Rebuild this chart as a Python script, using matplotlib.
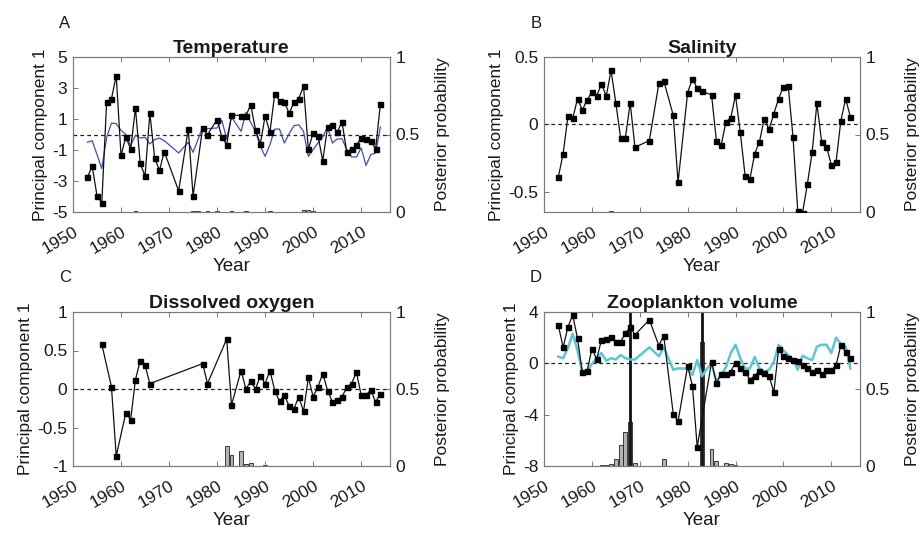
import matplotlib
matplotlib.use("Agg")
import matplotlib.pyplot as plt
import numpy as np

plt.rcParams['font.family'] = ['Liberation Sans', 'DejaVu Sans']

# ---------------- data ----------------
# Panel A: Temperature
temp_years = [1953, 1954, 1955, 1956, 1957, 1958, 1959, 1960, 1961, 1962, 1963, 1964, 1965,
              1966, 1967, 1968, 1969, 1972, 1974, 1975, 1977, 1978, 1980, 1981, 1982, 1983,
              1985, 1986, 1987, 1988, 1989, 1990, 1991, 1992, 1993, 1994, 1995, 1996, 1997,
              1998, 1999, 2000, 2001, 2002, 2003, 2004, 2005, 2006, 2007, 2008, 2009, 2010,
              2011, 2012, 2013, 2014]
temp_pc = [-2.75, -2.05, -3.96, -4.4, 2.08, 2.3, 3.79, -1.35, -0.16, -0.94, 1.7, -1.87, -2.69,
           1.39, -1.52, -2.32, -1.11, -3.64, 0.36, -3.96, 0.42, -0.01, 0.96, -0.18, -0.66, 1.26,
           1.22, 1.22, 1.91, 0.31, -0.62, 1.2, 0.14, 2.62, 2.17, 2.08, 1.37, 2.08, 2.32,
           3.12, -0.96, 0.10, -0.08, -1.70, 0.49, 0.64, 0.14, 0.81, -1.13, -0.94, -0.7, -0.23,
           -0.27, -0.4, -0.94, 1.98]
temp_fit = [-0.5, -0.4, -1.3, -2.2, -0.2, 0.74, 0.7, 0.27, 0.0, -0.72, -0.05, -0.23, -0.18,
            -0.61, -0.33, -0.23, -0.4, -1.19, -0.5, -1.15, 0.48, 0.38, 0.42, 0.91, -0.29, 1.13,
            0.2, 1.43, 0.78, 0.2, -0.76, -1.41, -0.66, 0.35, 0.35, -0.55, 0.05, 0.57, 0.63,
            0.2, -1.41, -0.98, -0.55, -0.16, 0.48, -0.55, -0.29, -0.27, -0.98, -1.45, -1.45, -0.87,
            -2.0, -1.3, -1.19, 0.48]
temp_bar_years = [1963, 1975, 1976, 1978, 1980, 1983, 1986, 1991, 1998, 1999, 2000]
temp_bar_prob = [0.004, 0.006, 0.005, 0.008, 0.006, 0.005, 0.004, 0.004, 0.012, 0.01, 0.006]

# Panel B: Salinity
sal_years = temp_years
sal_pc = [-0.39, -0.216, 0.06, 0.045, 0.19, 0.107, 0.18, 0.24, 0.21, 0.30, 0.21, 0.40, 0.16,
          -0.10, -0.10, 0.16, -0.17, -0.12, 0.305, 0.325, 0.067, -0.43, 0.236, 0.337, 0.27, 0.246,
          0.218, -0.12, -0.156, 0.02, 0.047, 0.216, -0.06, -0.38, -0.407, -0.218, -0.129, 0.042,
          -0.037, 0.079, 0.19, 0.28, 0.285, -0.09, -0.643, -0.655, -0.444, -0.208, 0.156, -0.134,
          -0.166, -0.298, -0.28, 0.027, 0.189, 0.055]
sal_bar_years = [1964, 1965, 1978]
sal_bar_prob = [0.004, 0.003, 0.003]

# Panel C: Dissolved oxygen
oxy_years = [1956, 1958, 1959, 1961, 1962, 1963, 1964, 1965, 1966, 1977, 1978, 1982, 1983,
             1985, 1986, 1987, 1988, 1989, 1990, 1991, 1992, 1993, 1994, 1995, 1996, 1997,
             1998, 1999, 2000, 2001, 2002, 2003, 2004, 2005, 2006, 2007, 2008, 2009, 2010,
             2011, 2012, 2013, 2014]
oxy_pc = [0.58, 0.03, -0.87, -0.31, -0.40, 0.12, 0.37, 0.31, 0.07, 0.33, 0.07, 0.65, -0.21,
          0.24, 0.0, 0.10, 0.0, 0.17, 0.07, 0.24, -0.02, -0.16, -0.08, -0.22, -0.26, -0.10,
          -0.29, 0.15, -0.10, 0.03, 0.20, -0.02, -0.17, -0.14, -0.10, 0.02, 0.07, 0.22, -0.08,
          -0.08, -0.01, -0.17, -0.06]
oxy_bar_years = [1977, 1978, 1982, 1983, 1985, 1986, 1987, 1989, 1990, 1991]
oxy_bar_prob = [0.002, 0.002, 0.13, 0.07, 0.095, 0.012, 0.02, 0.003, 0.004, 0.003]

# Panel D: Zooplankton volume
zoo_years = [1953, 1954, 1955, 1956, 1957, 1958, 1959, 1960, 1961, 1962, 1963, 1964, 1965,
             1966, 1967, 1968, 1969, 1972, 1974, 1975, 1977, 1978, 1980, 1981, 1982, 1985,
             1986, 1987, 1988, 1989, 1990, 1991, 1992, 1993, 1994, 1995, 1996, 1997, 1998,
             1999, 2000, 2001, 2002, 2003, 2004, 2005, 2006, 2007, 2008, 2009, 2010, 2011,
             2012, 2013, 2014]
zoo_pc = [2.95, 1.24, 2.85, 3.75, 1.94, -0.7, -0.6, 1.12, 0.34, 1.81, 1.86, 2.04, 1.69,
          1.69, 2.33, 2.82, 2.22, 3.39, 1.38, 2.16, -3.95, -4.52, -0.22, -1.75, -6.52, 0.1,
          -1.52, -0.87, -0.87, -0.64, 0.06, -0.33, -0.69, -1.26, -0.98, -0.59, -0.72, -0.98, -2.25,
          1.1, 0.58, 0.45, 0.24, 0.19, -0.12, -0.35, -0.64, -0.54, -0.85, -0.54, -0.54, -0.15,
          1.41, 0.89, 0.40]
zoo_fit_years = [1953, 1954, 1955, 1956, 1957, 1958, 1959, 1960, 1961, 1962, 1963, 1964, 1965,
                 1966, 1967, 1968, 1969, 1972, 1974, 1975, 1977, 1978, 1980, 1981, 1982, 1983,
                 1984, 1985, 1986, 1987, 1988, 1989, 1990, 1991, 1992, 1993, 1994, 1995, 1996,
                 1997, 1998, 1999, 2000, 2001, 2002, 2003, 2004, 2005, 2006, 2007, 2008, 2009,
                 2010, 2011, 2012, 2013, 2014]
zoo_fit = [0.52, 0.39, 1.2, 2.3, 1.0, -0.7, -0.6, -0.05, 0.4, 0.8, 0.2, 0.4, 0.3,
           0.65, 0.4, 0.3, 0.3, 1.25, 0.55, 1.25, -0.5, -0.4, -0.4, -0.9, 0.25, -1.0,
           -0.45, 0.0, -1.4, -0.9, -0.3, 0.8, 1.45, 0.4, -0.4, -0.4, 0.5, -0.4, -0.65,
           -0.5, 0.1, 1.45, 1.0, 0.65, 0.25, -0.5, 0.6, 0.4, 0.25, 1.3, 1.45, 1.45,
           0.8, 2.0, 1.5, 1.3, -0.4]
zoo_bar_years = [1962, 1963, 1964, 1965, 1966, 1967, 1968, 1969, 1972, 1975, 1983, 1985,
                 1986, 1988, 1989, 1990, 1991, 1997]
zoo_bar_prob = [0.006, 0.008, 0.013, 0.045, 0.136, 0.22, 0.287, 0.017, 0.003, 0.043, 0.806,
                0.108, 0.035, 0.02, 0.013, 0.006, 0.003, 0.002]
zoo_changepoints = [1968, 1983]

# ---------------- figure ----------------
fig = plt.figure(figsize=(9.2, 5.33), dpi=100)
W, H = 920.0, 533.0

def make_axes(l, t, r, b):
    return fig.add_axes([l / W, 1 - b / H, (r - l) / W, (b - t) / H])

panels = [
    dict(box=(73, 57, 390, 212), letter='A', title='Temperature', ylim=(-5, 5),
         yticks=[-5, -3, -1, 1, 3, 5], yticklabels=['-5', '-3', '-1', '1', '3', '5'],
         years=temp_years, pc=temp_pc, fit=(temp_years, temp_fit, '#3c4fb4', 0.9),
         bars=(temp_bar_years, temp_bar_prob), cps=[]),
    dict(box=(544, 57, 860, 212), letter='B', title='Salinity', ylim=(-0.65, 0.5),
         yticks=[-0.5, 0, 0.5], yticklabels=['-0.5', '0', '0.5'],
         years=sal_years, pc=sal_pc, fit=None,
         bars=(sal_bar_years, sal_bar_prob), cps=[]),
    dict(box=(73, 312, 390, 466), letter='C', title='Dissolved oxygen', ylim=(-1, 1),
         yticks=[-1, -0.5, 0, 0.5, 1], yticklabels=['-1', '-0.5', '0', '0.5', '1'],
         years=oxy_years, pc=oxy_pc, fit=None,
         bars=(oxy_bar_years, oxy_bar_prob), cps=[]),
    dict(box=(544, 312, 860, 466), letter='D', title='Zooplankton volume', ylim=(-8, 4),
         yticks=[-8, -4, 0, 4], yticklabels=['-8', '-4', '0', '4'],
         years=zoo_years, pc=zoo_pc, fit=(zoo_fit_years, zoo_fit, '#5cc6d6', 1.8),
         bars=(zoo_bar_years, zoo_bar_prob), cps=zoo_changepoints),
]

spine_col = '#7a7a7a'
txt_col = '#1a1a1a'
xticks = [1950, 1960, 1970, 1980, 1990, 2000, 2010]

for p in panels:
    l, t, r, b = p['box']
    ax = make_axes(l, t, r, b)
    ax2 = ax.twinx()
    ax.set_zorder(ax2.get_zorder() + 1)
    ax.patch.set_visible(False)

    # bars on right axis
    ax2.bar(p['bars'][0], p['bars'][1], width=0.8, color='#b4b4b4',
            edgecolor='#222222', linewidth=0.6)
    for cp in p['cps']:
        ax2.axvline(cp, color='#111111', linewidth=2.0)
    ax2.set_ylim(0, 1)
    ax2.set_yticks([0, 0.5, 1])
    ax2.set_yticklabels(['0', '0.5', '1'])
    ax2.set_ylabel('Posterior probability', fontsize=12.5, color=txt_col, labelpad=11)

    # lines on left axis
    ax.axhline(0, color='#222222', linestyle=(0, (3, 2.5)), linewidth=0.9)
    if p['fit'] is not None:
        fy, fv, fc, fw = p['fit']
        ax.plot(fy, fv, color=fc, linewidth=fw, zorder=3)
    ax.plot(p['years'], p['pc'], color='#111111', linewidth=0.9, marker='s',
            markersize=3.6, markerfacecolor='black', markeredgecolor='black', zorder=4)

    ax.set_xlim(1950, 2016)
    ax.set_ylim(*p['ylim'])
    ax.set_yticks(p['yticks'])
    ax.set_yticklabels(p['yticklabels'])
    ax.set_xticks(xticks)
    ax.set_xticklabels([str(x) for x in xticks])
    ax.set_ylabel('Principal component 1', fontsize=12.5, color=txt_col, labelpad=3)
    ax.set_xlabel('Year', fontsize=13.5, color=txt_col, labelpad=1)
    ax.set_title(p['title'], fontsize=14, fontweight='bold', color=txt_col, pad=3)

    for a in (ax, ax2):
        for s in a.spines.values():
            s.set_color(spine_col)
            s.set_linewidth(0.8)
    ax.tick_params(axis='x', direction='in', top=True, bottom=True, length=3.5,
                   width=0.7, color=spine_col, labelsize=12.5, labelcolor=txt_col, pad=9)
    ax.tick_params(axis='y', direction='in', left=True, right=False, length=3.5,
                   width=0.7, color=spine_col, labelsize=12.5, labelcolor=txt_col, pad=4)
    ax2.tick_params(axis='y', direction='in', right=True, length=3.5, width=0.7,
                    color=spine_col, labelsize=12.5, labelcolor=txt_col, pad=4)
    for lab in ax.get_xticklabels():
        lab.set_rotation(30)
        lab.set_ha('right')
        lab.set_va('top')
        lab.set_rotation_mode('anchor')

    fig.text((l - 8) / W, 1 - (t - 34) / H, p['letter'], fontsize=12, color=txt_col,
             ha='center', va='center')

fig.savefig('out.png', dpi=100)
